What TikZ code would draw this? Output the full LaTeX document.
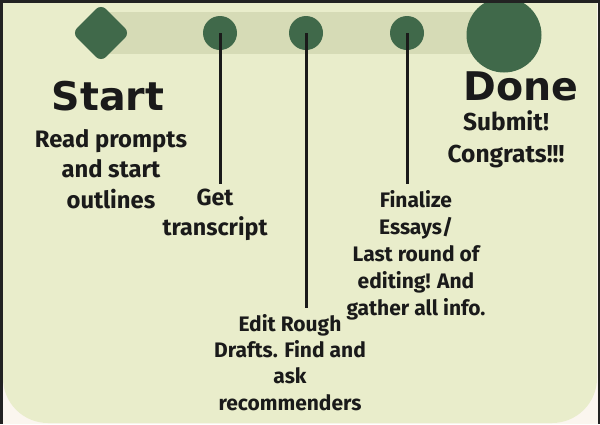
\documentclass[tikz,border=0pt]{standalone}
\usepackage{fontspec}
\setmainfont{Fira Sans}
\newfontfamily\headfont{DejaVu Sans}
\usetikzlibrary{shapes.geometric}
\definecolor{panel}{HTML}{E9EDCB}
\definecolor{band}{HTML}{D6DBB6}
\definecolor{dkgreen}{HTML}{40694A}
\definecolor{cream}{HTML}{FBF6EF}
\definecolor{frame}{HTML}{222222}
\definecolor{ink}{HTML}{1A1A1A}
\begin{document}
\begin{tikzpicture}[x=1pt,y=-1pt,
  dot/.style={circle,fill=dkgreen,minimum size=34pt,inner sep=0pt},
  stem/.style={line width=3pt,ink},
  body/.style 2 args={font=\bfseries\fontsize{#1}{#2}\selectfont,align=center,anchor=base,inner sep=0pt,text=ink},
  head/.style={font=\headfont\bfseries\fontsize{39.5}{40}\selectfont,anchor=base,inner sep=0pt,text=ink}]
\fill[cream] (0,0) rectangle (600,424);
\useasboundingbox (0,0) rectangle (600,424);
\fill[panel,rounded corners=45pt] (3,3) rectangle (597,423);
\fill[panel] (3,3) rectangle (597,200);
\fill[band] (101,12) rectangle (504,54);
\node[diamond,fill=dkgreen,minimum width=58pt,minimum height=58pt,inner sep=0pt,rounded corners=7pt] (dia) at (101,33) {};
\node[dot] (c1) at (220,33) {};
\node[dot] (c2) at (306,33) {};
\node[dot] (c3) at (407,33) {};
\node[circle,fill=dkgreen,minimum size=75pt,inner sep=0pt] (done) at (504,35) {};
\coordinate (e1) at (220,184);
\coordinate (e2) at (306,308);
\coordinate (e3) at (407,184);
\draw[stem] (c1.center) -- (e1);
\draw[stem] (c2.center) -- (e2);
\draw[stem] (c3.center) -- (e3);
\node[head] (start) at (108,110) {Start};
\node[head] (donet) at (521,100) {Done};
\node[body={23.8}{30.5}] (t0) at (111,208) {Read prompts\\and start\\outlines};
\node[body={23.3}{30}] (t1) at (215,235) {Get\\transcript};
\node[body={21}{26.3}] (t2) at (290,410) {Edit Rough\\Drafts. Find and\\ask\\recommenders};
\node[body={21}{27}] (t3) at (416,315) {Finalize\\Essays/\\Last round of\\editing! And\\gather all info.};
\node[body={24.5}{32}] (t4) at (506,162) {Submit!\\Congrats!!!};
\fill[frame] (0,0) rectangle (600,3);
\fill[frame] (0,0) rectangle (2.5,424);
\fill[frame] (597.5,0) rectangle (600,424);
\end{tikzpicture}
\end{document}
